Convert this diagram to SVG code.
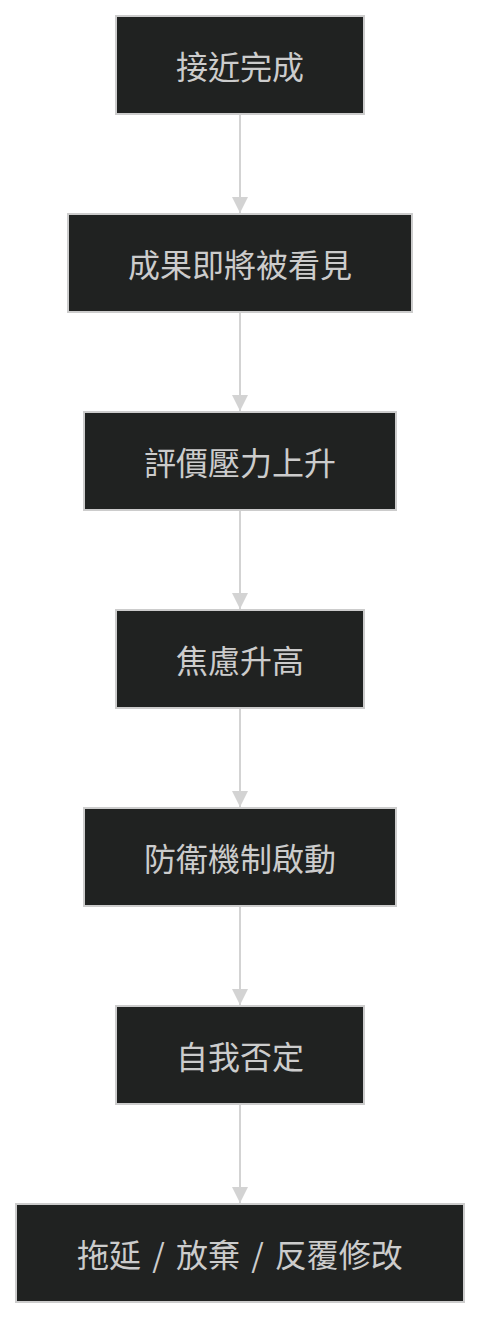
<svg xmlns="http://www.w3.org/2000/svg" width="481" height="1318" viewBox="0 0 481 1318">
<style>
.node rect{fill:#202221;stroke:#cccccc;stroke-width:2}
.node text{fill:#cccccc;font-family:"Noto Sans CJK TC","Noto Sans CJK SC",sans-serif;font-size:32px;text-anchor:middle}
.edge{stroke:#d3d3d3;stroke-width:2;fill:none}
</style>
<defs>
<marker id="arr" markerWidth="16" markerHeight="16" refX="16" refY="8" orient="auto" markerUnits="userSpaceOnUse">
<path d="M0,0 L16,8 L0,16 z" fill="#d3d3d3"/>
</marker>
</defs>
<rect width="481" height="1318" fill="#ffffff"/>
<g id="edges">
<line class="edge" x1="240" y1="114" x2="240" y2="213" marker-end="url(#arr)"/>
<line class="edge" x1="240" y1="312" x2="240" y2="411" marker-end="url(#arr)"/>
<line class="edge" x1="240" y1="510" x2="240" y2="609" marker-end="url(#arr)"/>
<line class="edge" x1="240" y1="708" x2="240" y2="807" marker-end="url(#arr)"/>
<line class="edge" x1="240" y1="906" x2="240" y2="1005" marker-end="url(#arr)"/>
<line class="edge" x1="240" y1="1104" x2="240" y2="1203" marker-end="url(#arr)"/>
</g>
<g id="n1" class="node"><rect x="116" y="16" width="248" height="98"/><text x="240" y="79">接近完成</text></g>
<g id="n2" class="node"><rect x="68" y="214" width="344" height="98"/><text x="240" y="277">成果即將被看見</text></g>
<g id="n3" class="node"><rect x="84" y="412" width="312" height="98"/><text x="240" y="475">評價壓力上升</text></g>
<g id="n4" class="node"><rect x="116" y="610" width="248" height="98"/><text x="240" y="673">焦慮升高</text></g>
<g id="n5" class="node"><rect x="84" y="808" width="312" height="98"/><text x="240" y="871">防衛機制啟動</text></g>
<g id="n6" class="node"><rect x="116" y="1006" width="248" height="98"/><text x="240" y="1069">自我否定</text></g>
<g id="n7" class="node"><rect x="16" y="1204" width="448" height="98"/><text x="240" y="1267" style="word-spacing:4px">拖延 / 放棄 / 反覆修改</text></g>
</svg>
